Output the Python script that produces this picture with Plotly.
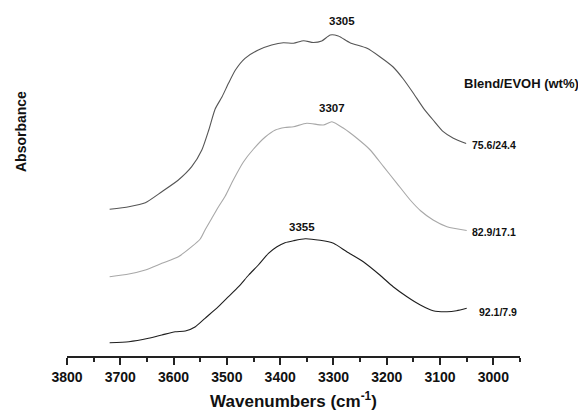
import plotly.graph_objects as go

# Wavenumbers (cm-1) and stacked absorbance (arbitrary units, offset spectra)
wn_a = [3720, 3684, 3653, 3622, 3591, 3566, 3547, 3534, 3522, 3509, 3497, 3484, 3466,
        3441, 3416, 3394, 3375, 3356, 3338, 3322, 3306, 3291, 3269, 3237, 3213, 3188,
        3169, 3150, 3131, 3113, 3094, 3075, 3051]
abs_a = [1.467, 1.493, 1.533, 1.643, 1.76, 1.893, 2.06, 2.26, 2.47, 2.593, 2.727, 2.86, 2.977,
         3.06, 3.11, 3.133, 3.127, 3.153, 3.135, 3.15, 3.21, 3.20, 3.133, 3.077, 2.993, 2.89,
         2.77, 2.627, 2.477, 2.36, 2.243, 2.177, 2.124]

wn_b = [3720, 3684, 3653, 3622, 3591, 3566, 3550, 3541, 3528, 3516, 3503, 3488, 3469,
        3450, 3428, 3409, 3391, 3375, 3350, 3319, 3303, 3281, 3256, 3231, 3206, 3181,
        3156, 3136, 3113, 3087, 3050]
abs_b = [0.793, 0.82, 0.86, 0.927, 0.993, 1.093, 1.17, 1.26, 1.38, 1.49, 1.60, 1.76, 1.94,
         2.07, 2.19, 2.26, 2.285, 2.293, 2.327, 2.31, 2.343, 2.277, 2.177, 2.06, 1.893, 1.727,
         1.56, 1.45, 1.36, 1.293, 1.255]

wn_c = [3720, 3684, 3647, 3622, 3597, 3578, 3559, 3541, 3516, 3497, 3478, 3459, 3441,
        3422, 3406, 3391, 3375, 3353, 3325, 3300, 3275, 3244, 3213, 3188, 3162, 3137,
        3113, 3087, 3069, 3050]
abs_c = [0.133, 0.143, 0.177, 0.21, 0.243, 0.25, 0.293, 0.377, 0.493, 0.593, 0.693, 0.81, 0.91,
         1.027, 1.093, 1.133, 1.153, 1.173, 1.157, 1.127, 1.043, 0.943, 0.81, 0.693, 0.593, 0.51,
         0.453, 0.443, 0.453, 0.477]

series_names = ["75.6/24.4", "82.9/17.1", "92.1/7.9"]
peak_labels = ["3305", "3307", "3355"]
peak_pos_wn = [3284, 3303, 3359]
peak_pos_abs = [3.353, 2.477, 1.29]
name_pos_wn = [3044, 3044, 3031]
name_pos_abs = [2.11, 1.237, 0.443]
legend_title = "Blend/EVOH (wt%)"

colors = ["#555555", "#a8a8a8", "#1e1e1e"]
FONT = "Liberation Sans, Arial, sans-serif"

fig = go.Figure()
for wn, ab, col, nm in zip([wn_a, wn_b, wn_c], [abs_a, abs_b, abs_c], colors, series_names):
    fig.add_trace(go.Scatter(x=wn, y=ab, mode="lines", name=nm,
                             line=dict(color=col, width=1.1, shape="spline", smoothing=0.6),
                             showlegend=False))

for t, xw, ya in zip(peak_labels, peak_pos_wn, peak_pos_abs):
    fig.add_annotation(x=xw, y=ya, xref="x", yref="y", text="<b>%s</b>" % t,
                       showarrow=False, font=dict(family=FONT, size=11.5, color="#111"))
for t, xw, ya in zip(series_names, name_pos_wn, name_pos_abs):
    fig.add_annotation(x=xw, y=ya, xref="x", yref="y", text="<b>%s</b>" % t,
                       showarrow=False, xanchor="left",
                       font=dict(family=FONT, size=10.5, color="#111"))
fig.add_annotation(x=3059, y=2.727, xref="x", yref="y", text="<b>%s</b>" % legend_title,
                   showarrow=False, xanchor="left",
                   font=dict(family=FONT, size=13, color="#111"))

W, H, L, R, T, B = 578, 415, 67, 58, 0, 59
fig.add_annotation(x=(21 - L) / (W - L - R), y=1 - 132 / (H - T - B),
                   xref="paper", yref="paper", text="<b>Absorbance</b>",
                   textangle=-90, showarrow=False, xanchor="center", yanchor="middle",
                   font=dict(family=FONT, size=14, color="#111"))

fig.update_layout(
    width=W, height=H,
    margin=dict(l=L, r=R, t=T, b=B),
    paper_bgcolor="white", plot_bgcolor="white",
    font=dict(family=FONT, color="#111"),
    xaxis=dict(range=[3800, 2950], dtick=100, tick0=3000,
               showgrid=False, zeroline=False,
               showline=True, linecolor="#222", linewidth=1.5,
               ticks="outside", ticklen=7, tickwidth=1.5, tickcolor="#222",
               minor=dict(dtick=50, ticks="outside", ticklen=4, tickwidth=1.5,
                          tickcolor="#222", showgrid=False),
               tickfont=dict(family=FONT, size=14, color="#111", weight="bold"),
               title=dict(text="<b>Wavenumbers (cm<sup>-1</sup>)</b>",
                          font=dict(family=FONT, size=17, color="#111"), standoff=12)),
    yaxis=dict(range=[0, 3.56], visible=False),
)

fig.write_html("out.html")
